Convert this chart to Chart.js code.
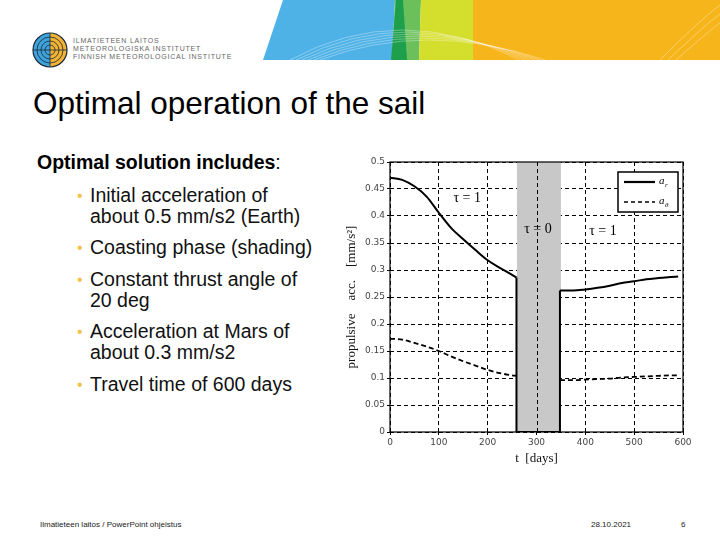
<!DOCTYPE html>
<html>
<head>
<meta charset="utf-8">
<script src="https://cdn.jsdelivr.net/npm/chart.js@4/dist/chart.umd.min.js"></script>
<style>
  html, body { margin: 0; padding: 0; background: #fff; }
  #slide { position: relative; width: 720px; height: 540px; overflow: hidden; background: #fff; font-family: "Liberation Sans", Arial, sans-serif; color: #000; }
  .abs { position: absolute; white-space: nowrap; }
  #title { left: 33px; top: 83px; font-size: 31.5px; line-height: 40px; }
  #sub { left: 37px; top: 150px; font-size: 19.5px; line-height: 24px; }
  #sub b { font-weight: bold; }
  .bl { position: absolute; left: 90px; font-size: 19.5px; line-height: 21.5px; color: #111; white-space: nowrap; }
  .bl .dot { position: absolute; left: -13px; top: 0; color: #f2c24e; font-size: 16px; }
  .logo-t { font-size: 7px; letter-spacing: 0.8px; color: #666; line-height: 8px; }
  .foot { font-size: 8px; color: #222; top: 520px; }
  #chartBox { position: absolute; left: 340px; top: 150px; width: 360px; height: 320px; }
</style>
</head>
<body>
<div id="slide">
  <svg class="abs" style="left:0;top:0" width="720" height="62">
    <polygon points="283,0 395,0 392,60 263,60" fill="#4fb2e6"/>
    <polygon points="395,0 421,0 419,60 392,60" fill="#6cc05c"/>
    <polygon points="396,0 403,0 407,60 391,60" fill="#1e9f4c"/>
    <polygon points="421,0 473,0 473,60 419,60" fill="#d4de2c"/>
    <rect x="473" y="0" width="247" height="60" fill="#f7b51c"/>
    <g fill="none" stroke="#ffffff" stroke-opacity="0.55" stroke-width="0.6">
      <path d="M290,60 Q400,0 520,60"/>
      <path d="M296,60 Q405,4 525,60"/>
      <path d="M302,60 Q410,8 530,60"/>
      <path d="M308,60 Q415,12 535,60"/>
      <path d="M314,60 Q420,16 540,60"/>
      <path d="M320,60 Q425,20 545,60"/>
      <path d="M660,60 Q700,20 720,5"/>
      <path d="M668,60 Q705,25 720,14"/>
      <path d="M676,60 Q710,30 720,23"/>
    </g>
  </svg>
  <svg class="abs" style="left:30px;top:32px" width="40" height="38">
    <defs><clipPath id="cl"><circle cx="20" cy="18" r="17"/></clipPath></defs>
    <g clip-path="url(#cl)">
      <rect x="0" y="0" width="20" height="38" fill="#3ea2db"/>
      <rect x="20" y="0" width="20" height="38" fill="#f2b232"/>
      <g fill="none" stroke="#1b2a3a" stroke-width="0.8">
        <circle cx="20" cy="18" r="5"/>
        <circle cx="20" cy="18" r="9"/>
        <circle cx="20" cy="18" r="13"/>
        <line x1="20" y1="0" x2="20" y2="36"/>
        <line x1="3" y1="18" x2="37" y2="18"/>
      </g>
    </g>
    <circle cx="20" cy="18" r="17" fill="none" stroke="#1b2a3a" stroke-width="1.2"/>
  </svg>
  <div class="abs logo-t" style="left:73px;top:37px">ILMATIETEEN LAITOS</div>
  <div class="abs logo-t" style="left:73px;top:45px">METEOROLOGISKA INSTITUTET</div>
  <div class="abs logo-t" style="left:73px;top:53px">FINNISH METEOROLOGICAL INSTITUTE</div>

  <div id="title" class="abs">Optimal operation of the sail</div>
  <div id="sub" class="abs"><b>Optimal solution includes</b>:</div>

  <div class="bl" style="top:185px"><span class="dot">•</span>Initial acceleration of</div>
  <div class="bl" style="top:206px">about 0.5 mm/s2 (Earth)</div>
  <div class="bl" style="top:237px"><span class="dot">•</span>Coasting phase (shading)</div>
  <div class="bl" style="top:269px"><span class="dot">•</span>Constant thrust angle of</div>
  <div class="bl" style="top:290px">20 deg</div>
  <div class="bl" style="top:321px"><span class="dot">•</span>Acceleration at Mars of</div>
  <div class="bl" style="top:342px">about 0.3 mm/s2</div>
  <div class="bl" style="top:374px"><span class="dot">•</span>Travel time of 600 days</div>

  <div class="abs foot" style="left:40px">Ilmatieteen laitos / PowerPoint ohjeistus</div>
  <div class="abs foot" style="left:591px">28.10.2021</div>
  <div class="abs foot" style="left:681px">6</div>

  <div id="chartBox"><canvas id="c" width="360" height="320"></canvas></div>
</div>
<script>
// ---- data ----
const daysThrust1 = [0, 25, 50, 75, 100, 125, 150, 175, 200, 225, 250, 259];
const arThrust1   = [0.471, 0.467, 0.455, 0.436, 0.406, 0.378, 0.357, 0.337, 0.318, 0.304, 0.291, 0.286];
const athThrust1  = [0.173, 0.171, 0.165, 0.158, 0.150, 0.140, 0.131, 0.123, 0.115, 0.109, 0.105, 0.104];

const daysCoast = [259, 259, 348, 348];
const arCoast   = [0.286, 0, 0, 0.262];

const daysThrust2 = [348, 375, 400, 425, 450, 475, 500, 525, 550, 575, 590];
const arThrust2   = [0.262, 0.262, 0.264, 0.267, 0.271, 0.276, 0.279, 0.283, 0.285, 0.287, 0.288];
const athThrust2  = [0.096, 0.096, 0.097, 0.098, 0.099, 0.101, 0.102, 0.103, 0.104, 0.105, 0.105];

const coastRange = [260, 350];

const xTicks = [0, 100, 200, 300, 400, 500, 600];
const xTickLabels = ['0', '100', '200', '300', '400', '500', '600'];
const yTicks = [0, 0.05, 0.1, 0.15, 0.2, 0.25, 0.3, 0.35, 0.4, 0.45, 0.5];
const yTickLabels = ['0', '0.05', '0.1', '0.15', '0.2', '0.25', '0.3', '0.35', '0.4', '0.45', '0.5'];

const tauLabels = ['\u03C4 = 1', '\u03C4 = 0', '\u03C4 = 1'];
const tauX = [158, 303, 436];
const tauY = [0.432, 0.375, 0.372];

const xTitle = 't  [days]';
const yTitle = 'propulsive    acc.    [mm/s\u00B2]';
const legendNames = ['r', '\u03B8'];

// ---- helpers ----
const pts = (xs, ys) => xs.map((x, i) => ({ x: x, y: ys[i] }));

const framePlugin = {
  id: 'frameAndNotes',
  beforeDatasetsDraw(chart) {
    const { ctx, chartArea: a, scales: { x, y } } = chart;
    ctx.save();
    const x0 = x.getPixelForValue(coastRange[0]);
    const x1 = x.getPixelForValue(coastRange[1]);
    ctx.fillStyle = '#c8c8c8';
    ctx.fillRect(x0, a.top, x1 - x0, a.bottom - a.top);
    ctx.strokeStyle = '#000';
    ctx.lineWidth = 1;
    ctx.setLineDash([4, 3]);
    xTicks.forEach(v => {
      if (v > coastRange[0] && v < coastRange[1]) {
        const px = Math.round(x.getPixelForValue(v)) + 0.5;
        ctx.beginPath(); ctx.moveTo(px, a.top); ctx.lineTo(px, a.bottom); ctx.stroke();
      }
    });
    ctx.restore();
  },
  afterDatasetsDraw(chart) {
    const { ctx, chartArea: a, scales: { x, y } } = chart;
    ctx.save();
    ctx.setLineDash([]);
    ctx.strokeStyle = '#000';
    ctx.lineWidth = 1.2;
    ctx.strokeRect(a.left, a.top, a.right - a.left, a.bottom - a.top);
    ctx.fillStyle = '#000';
    ctx.font = '14px "Liberation Serif", serif';
    ctx.textAlign = 'center';
    ctx.textBaseline = 'middle';
    tauLabels.forEach((t, i) => {
      ctx.fillText(t, x.getPixelForValue(tauX[i]), y.getPixelForValue(tauY[i]));
    });
    const bx = a.right - 65, by = a.top + 10, bw = 60, bh = 40;
    ctx.fillStyle = '#fff';
    ctx.fillRect(bx, by, bw, bh);
    ctx.lineWidth = 1.5;
    ctx.strokeStyle = '#000';
    ctx.strokeRect(bx, by, bw, bh);
    const ly = [by + 10, by + 30];
    ctx.lineWidth = 2.2;
    ctx.beginPath(); ctx.moveTo(bx + 6, ly[0]); ctx.lineTo(bx + 37, ly[0]); ctx.stroke();
    ctx.lineWidth = 1.6;
    ctx.setLineDash([4, 3]);
    ctx.beginPath(); ctx.moveTo(bx + 6, ly[1]); ctx.lineTo(bx + 37, ly[1]); ctx.stroke();
    ctx.setLineDash([]);
    ctx.fillStyle = '#000';
    ctx.textAlign = 'left';
    ctx.textBaseline = 'alphabetic';
    legendNames.forEach((n, i) => {
      ctx.font = 'italic 11px "Liberation Serif", serif';
      ctx.fillText('a', bx + 41, ly[i] + 2);
      ctx.font = 'italic 7px "Liberation Serif", serif';
      ctx.fillText(n, bx + 47, ly[i] + 5);
    });
    ctx.restore();
  }
};

new Chart(document.getElementById('c'), {
  type: 'line',
  data: {
    datasets: [
      { data: pts(daysThrust1, arThrust1), borderColor: '#000', borderWidth: 2, pointRadius: 0, cubicInterpolationMode: 'monotone' },
      { data: pts(daysCoast, arCoast), borderColor: '#000', borderWidth: 2, pointRadius: 0, tension: 0 },
      { data: pts(daysThrust2, arThrust2), borderColor: '#000', borderWidth: 2, pointRadius: 0, cubicInterpolationMode: 'monotone' },
      { data: pts(daysThrust1, athThrust1), borderColor: '#000', borderWidth: 1.8, borderDash: [5, 3], pointRadius: 0, cubicInterpolationMode: 'monotone' },
      { data: pts(daysThrust2, athThrust2), borderColor: '#000', borderWidth: 1.8, borderDash: [5, 3], pointRadius: 0, cubicInterpolationMode: 'monotone' }
    ]
  },
  options: {
    responsive: false,
    animation: false,
    layout: { padding: { top: 12, right: 17, left: 0, bottom: 0 } },
    plugins: { legend: { display: false }, tooltip: { enabled: false } },
    scales: {
      x: {
        type: 'linear', min: 0, max: 600,
        afterBuildTicks: s => { s.ticks = xTicks.map(v => ({ value: v })); },
        afterFit: s => { s.height = 38; },
        ticks: { callback: (v, i) => xTickLabels[i], color: '#444', font: { size: 9, family: '"DejaVu Sans", sans-serif' }, padding: 2, maxRotation: 0 },
        grid: { color: '#000', lineWidth: 1, tickLength: 3 },
        border: { display: false, dash: [4, 3] },
        title: { display: true, text: xTitle, color: '#111', font: { size: 13, family: '"Liberation Serif", serif' }, padding: { top: 2 } }
      },
      y: {
        type: 'linear', min: 0, max: 0.5,
        afterBuildTicks: s => { s.ticks = yTicks.map(v => ({ value: v })); },
        afterFit: s => { s.width = 50; },
        ticks: { callback: (v, i) => yTickLabels[i], color: '#444', font: { size: 9, family: '"DejaVu Sans", sans-serif' }, padding: 2 },
        grid: { color: '#000', lineWidth: 1, tickLength: 3 },
        border: { display: false, dash: [4, 3] },
        title: { display: true, text: yTitle, color: '#111', font: { size: 13, family: '"Liberation Serif", serif' }, padding: { bottom: 0 } }
      }
    }
  },
  plugins: [framePlugin]
});
</script>
</body>
</html>
